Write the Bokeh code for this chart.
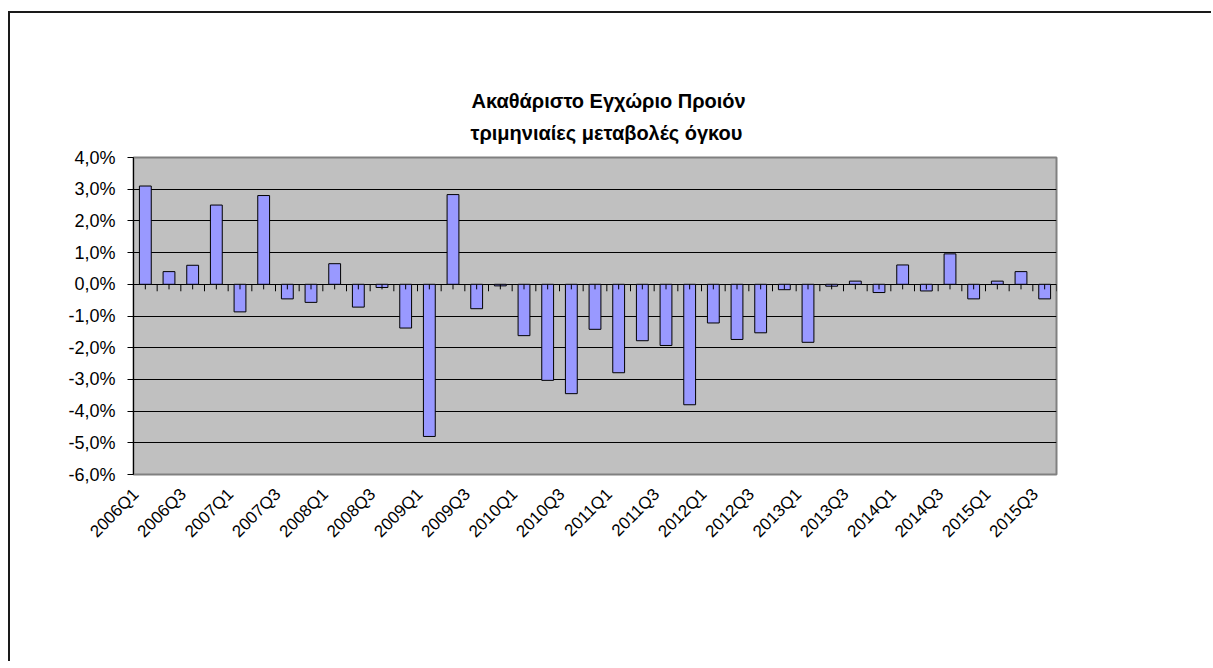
import numpy as np
from bokeh.plotting import figure
from bokeh.models import Range1d, FixedTicker, ColumnDataSource, Title, LinearAxis
from bokeh.embed import file_html
from bokeh.resources import INLINE

title_main = "Ακαθάριστο Εγχώριο Προιόν"
title_sub = "τριμηνιαίες μεταβολές όγκου"

categories = [
    "2006Q1", "2006Q2", "2006Q3", "2006Q4",
    "2007Q1", "2007Q2", "2007Q3", "2007Q4",
    "2008Q1", "2008Q2", "2008Q3", "2008Q4",
    "2009Q1", "2009Q2", "2009Q3", "2009Q4",
    "2010Q1", "2010Q2", "2010Q3", "2010Q4",
    "2011Q1", "2011Q2", "2011Q3", "2011Q4",
    "2012Q1", "2012Q2", "2012Q3", "2012Q4",
    "2013Q1", "2013Q2", "2013Q3", "2013Q4",
    "2014Q1", "2014Q2", "2014Q3", "2014Q4",
    "2015Q1", "2015Q2", "2015Q3",
]
values = [
    3.10, 0.40, 0.60, 2.50,
    -0.87, 2.80, -0.46, -0.57,
    0.65, -0.72, -0.10, -1.38,
    -4.80, 2.83, -0.77, -0.05,
    -1.62, -3.03, -3.45, -1.42,
    -2.79, -1.78, -1.93, -3.80,
    -1.22, -1.74, -1.53, -0.17,
    -1.83, -0.06, 0.10, -0.26,
    0.61, -0.21, 0.96, -0.46,
    0.10, 0.40, -0.46,
]
y_ticks = [-6, -5, -4, -3, -2, -1, 0, 1, 2, 3, 4]
y_labels = ["-6,0%", "-5,0%", "-4,0%", "-3,0%", "-2,0%", "-1,0%",
            "0,0%", "1,0%", "2,0%", "3,0%", "4,0%"]

FONT = "Liberation Sans"
n = len(categories)
xc = np.arange(n) + 0.5
LABEL_SHIFT = 0.4  # labels sit slightly left of the category centre

p = figure(width=1203, height=650, output_backend="svg", toolbar_location=None,
           x_range=Range1d(0, n), y_range=Range1d(-6, 4),
           x_axis_location=None,
           min_border_left=123, min_border_right=157, min_border_top=144,
           min_border_bottom=189)
p.styles = {"border-left": "2px solid #1a1a1a", "border-top": "2px solid #1a1a1a",
            "margin-top": "11px", "margin-left": "8px"}
p.background_fill_color = "#C0C0C0"
p.border_fill_color = "white"
p.outline_line_color = "#808080"
p.outline_line_width = 2

# titles
p.title = None
sub = Title(text=title_sub, align="left", offset=337, text_font=FONT, text_font_style="bold",
            text_font_size="20px", text_color="black", standoff=27)
main = Title(text=title_main, align="left", offset=338, text_font=FONT, text_font_style="bold",
             text_font_size="20px", text_color="black", standoff=-10)
p.add_layout(sub, "above")
p.add_layout(main, "above")

# grid
p.xgrid.visible = False
p.ygrid.ticker = FixedTicker(ticks=y_ticks)
p.ygrid.grid_line_color = "black"
p.ygrid.grid_line_width = 1

# y axis
p.yaxis.ticker = FixedTicker(ticks=y_ticks)
p.yaxis.major_label_overrides = {t: l for t, l in zip(y_ticks, y_labels)}
p.yaxis.axis_line_color = "black"
p.yaxis.axis_line_width = 1
p.yaxis.major_tick_line_color = "black"
p.yaxis.major_tick_out = 6
p.yaxis.major_tick_in = 0
p.yaxis.minor_tick_line_color = None
p.yaxis.major_label_text_font = FONT
p.yaxis.major_label_text_font_size = "18px"
p.yaxis.major_label_text_color = "black"
p.yaxis.major_label_standoff = 12

# x labels on a shifted helper range
p.extra_x_ranges = {"lab": Range1d(LABEL_SHIFT, n + LABEL_SHIFT)}
label_idx = list(range(0, n, 2))
xax = LinearAxis(x_range_name="lab", ticker=FixedTicker(ticks=[float(xc[i]) for i in label_idx]))
xax.major_label_overrides = {float(xc[i]): categories[i] for i in label_idx}
xax.major_label_orientation = np.pi / 4
xax.axis_line_color = None
xax.major_tick_line_color = None
xax.minor_tick_line_color = None
xax.major_label_text_font = FONT
xax.major_label_text_font_size = "17px"
xax.major_label_text_color = "black"
xax.major_label_standoff = 11
p.add_layout(xax, "below")

# bars
src = ColumnDataSource(dict(x=xc, top=values))
p.vbar(x="x", top="top", bottom=0, width=0.5, source=src,
       fill_color="#9999FF", line_color="black", line_width=1)

# category axis ticks on the zero line
bounds = np.arange(n + 1)
p.segment(x0=bounds, y0=0, x1=bounds, y1=-0.22, line_color="black", line_width=1)
p.segment(x0=xc, y0=0, x1=xc, y1=-0.16, line_color="black", line_width=1)

open("out.html", "w").write(file_html(p, INLINE))
